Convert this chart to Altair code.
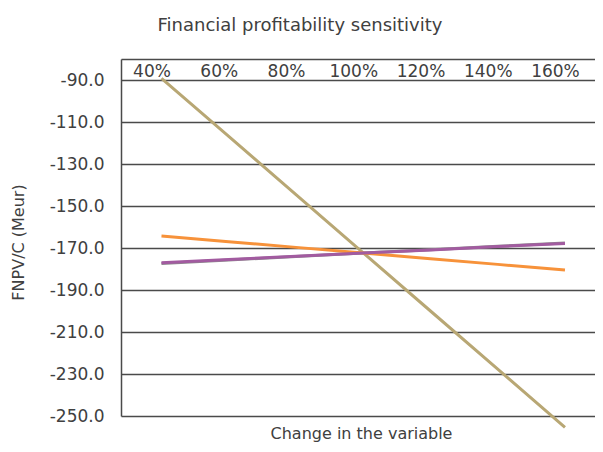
import altair as alt
import pandas as pd

# ---- data ----
changes = [40, 60, 80, 100, 120, 140, 160]
investment_costs = [-89.2, -116.9, -144.6, -172.3, -200.0, -227.7, -255.4]
operating_costs = [-164.3, -167.0, -169.7, -172.4, -175.1, -177.8, -180.5]
discount_rate = [-177.4, -175.7, -174.1, -172.4, -170.8, -169.2, -167.6]
revenues = [-177.0, -175.5, -173.9, -172.4, -170.9, -169.3, -167.8]

series_names = ["Discount rate", "Investment costs", "Operating costs", "Revenues"]
series_values = [discount_rate, investment_costs, operating_costs, revenues]
series_colors = ["#8c8c8c", "#B8A774", "#F7923A", "#A25BA0"]

y_ticks = [-90, -110, -130, -150, -170, -190, -210, -230, -250]

rows = []
for name, vals in zip(series_names, series_values):
    for c, v in zip(changes, vals):
        rows.append({"series": name, "change": c, "value": v})
df = pd.DataFrame(rows)

W, H = 474, 357
FONT = "DejaVu Sans"
TXT = "#404040"
GRID = "#4a4a4a"

chart = alt.Chart(df).mark_line(strokeWidth=3, clip=False).encode(
    x=alt.X(
        "change:Q",
        scale=alt.Scale(domain=[27.96, 168.93], nice=False, zero=False),
        axis=alt.Axis(
            orient="top", values=changes, labelExpr="datum.value + '%'",
            ticks=False, tickSize=0, labelPadding=-17, labelBaseline="alphabetic",
            labelOffset=-10, labelFlush=False, labelOverlap=False, grid=False,
            domain=True, domainColor=GRID, domainWidth=1.5,
            labelFont=FONT, labelFontSize=17, labelColor=TXT,
            title="Change in the variable", titleX=240, titleY=374,
            titleBaseline="middle", titleAlign="center", titleFont=FONT,
            titleFontSize=16, titleFontWeight="normal", titleColor=TXT,
        ),
    ),
    y=alt.Y(
        "value:Q",
        scale=alt.Scale(domain=[-250, -80], nice=False, zero=False),
        axis=alt.Axis(
            values=y_ticks, labelExpr="datum.value + '.0'", ticks=False, tickSize=0,
            labelPadding=17, grid=True, gridColor=GRID, gridWidth=1.5,
            domain=True, domainColor=GRID, domainWidth=1.5,
            labelFont=FONT, labelFontSize=17, labelColor=TXT,
            title="FNPV/C (Meur)", titleX=-103, titleY=183, titleAngle=270,
            titleBaseline="middle", titleAlign="center", titleFont=FONT,
            titleFontSize=16, titleFontWeight="normal", titleColor=TXT,
        ),
    ),
    color=alt.Color(
        "series:N",
        scale=alt.Scale(domain=series_names, range=series_colors),
        legend=None,
    ),
).properties(
    width=W,
    height=H,
    title=alt.TitleParams(
        "Financial profitability sensitivity", font=FONT, fontSize=18,
        fontWeight="normal", color=TXT, anchor="middle", dx=-58,
        baseline="alphabetic", offset=10,
    ),
    padding={"left": 113, "top": 51, "right": 0, "bottom": 28},
    autosize=alt.AutoSizeParams(type="none"),
).configure_view(stroke=None)

chart.save("out.html", embed_options={"renderer": "svg", "actions": False})
